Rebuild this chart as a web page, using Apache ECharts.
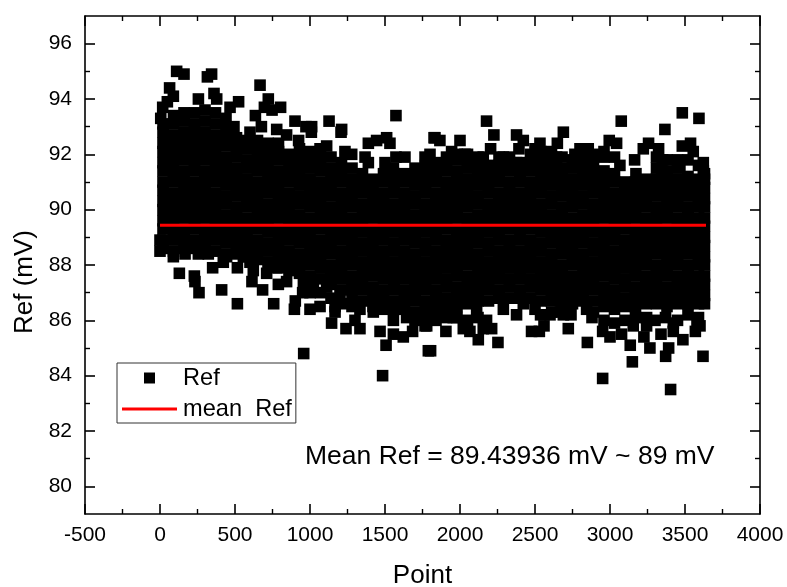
<!DOCTYPE html>
<html><head><meta charset="utf-8">
<script src="https://cdn.jsdelivr.net/npm/echarts@6/dist/echarts.min.js"></script>
<style>html,body{margin:0;background:#fff}#c{width:787px;height:587px}</style></head>
<body><div id="c"></div>
<script>
const meanRef = 89.43936;
const meanX = [0, 3640];
const xTicks = [-500,0,500,1000,1500,2000,2500,3000,3500,4000];
const yTicks = [80,82,84,86,88,90,92,94,96];
const yMinorTicks = [81,83,85,87,89,91,93,95];
// Isolated points around the cloud
const upperX = [111,160,316,344,64,89,49,18,5,256,360,378,467,524,667,636,722,696,747,804,493,600,676,778,844,900,973,1009,1011,1127,1211,1207,924,1111,1067,1389,1444,1511,1533,1573,1367,1389,1500,1573,1633,1767,1233,1278,1656,1711,1556,1827,2177,1833,1866,2000,2226,2377,2422,2689,3075,2995,3044,3366,3482,3593,3537,3482,3555,3257,3222,3324,3351,3622,3622,3466,3164,3173,3066,2960,2855,2800,2766,2649,2533,2500,2393,2204,2155,2033,1944,1800,2289,2644,2377,3344,3310,3310,2540,2610,2470,2330,2260,1910,1980,2050,2120,2820,2890,2960,3030,3590,3520,3450,3380];
const upperY = [95.0,94.9,94.8,94.9,94.4,94.1,93.9,93.7,93.3,94.0,94.2,94.0,93.7,93.9,94.5,93.4,94.0,93.7,93.6,93.7,93.0,92.8,93.0,92.9,92.7,93.2,93.0,92.8,93.0,93.2,92.9,92.8,92.5,92.3,92.2,92.4,92.5,92.6,92.4,93.4,91.9,91.7,91.7,91.9,91.9,91.9,92.1,92.0,91.2,91.3,91.5,92.6,93.2,92.6,92.5,92.5,92.7,92.7,92.5,92.8,93.2,92.5,92.4,92.9,93.5,93.3,92.4,92.3,92.1,92.4,92.2,92.2,91.8,91.7,91.4,91.6,91.8,91.3,91.6,91.9,92.2,92.2,92.0,92.4,92.4,92.2,92.2,92.2,91.9,92.0,92.1,92.0,91.9,91.9,91.7,91.5,91.5,91.9,92.1,92.1,92.0,91.9,91.9,91.9,92.0,92.0,91.9,92.0,92.0,92.1,91.9,91.6,91.8,91.8,91.8];
const lowerX = [129,229,233,260,411,516,613,684,758,896,902,1000,1067,1167,1167,1144,1240,1300,1333,1467,1484,958,1507,1556,1622,1684,1767,1789,351,422,516,622,711,789,844,956,1022,1111,1200,951,89,0,0,167,256,322,444,556,600,778,1333,1422,1556,1644,1756,1804,1906,1778,2122,2253,2211,2155,2066,2022,2177,2377,2289,2477,2529,2560,2537,2689,2722,2849,2951,2880,2951,3000,3077,3135,3149,3155,3226,3266,3244,3340,3391,3371,3404,3486,3422,3422,3569,3620,3600,3580,3244,2611,2500,2422,2111,1955,1844,2844,1000,1070,1140,1210,1280,1700,1770,1840,1910,1980,2050,2120,2600,2670,2740,2890,2960,3030,3100,3170,3300,3370,3450,3520,3590];
const lowerY = [87.7,87.6,87.4,87.0,87.1,86.6,87.4,87.1,86.6,86.4,86.7,86.4,86.5,86.3,86.5,85.9,85.7,86.0,85.7,85.6,84.0,84.8,85.1,85.5,85.4,85.6,85.8,84.9,87.9,88.1,87.9,87.8,87.7,87.3,87.4,87.3,87.3,87.2,86.9,87.0,88.3,88.9,88.5,88.4,88.4,88.4,88.3,88.3,88.1,87.9,86.4,86.3,86.0,86.1,86.1,84.9,85.6,85.8,85.3,85.2,85.7,85.7,85.6,85.7,86.0,86.2,86.4,85.6,85.6,85.8,86.2,86.2,85.7,85.2,83.9,86.1,85.6,85.4,85.5,85.1,84.5,85.8,85.4,85.0,85.8,85.5,85.0,84.7,83.5,85.3,85.6,85.9,85.6,84.7,85.8,86.0,86.1,86.3,86.4,86.6,86.4,86.1,86.3,86.4,87.0,87.0,86.8,86.6,86.5,86.0,86.1,86.0,86.1,86.1,86.0,86.1,86.2,86.3,86.2,86.3,86.0,85.9,86.0,86.1,86.0,86.1,86.0,86.2,86.1];
// Dense body of the cloud, column by column
const bodyX = [20,90,160,230,300,370,440,510,580,650,720,790,860,930,1000,1070,1140,1210,1280,1350,1420,1490,1560,1630,1700,1770,1840,1910,1980,2050,2120,2190,2260,2330,2400,2470,2540,2610,2680,2750,2820,2890,2960,3030,3100,3170,3240,3310,3380,3450,3520,3590,3630];
const bodyY = [
[88.6,88.9,89.3,89.6,90.0,90.3,90.7,91.0,91.4,91.7,92.1,92.4,92.8,93.1],
[88.5,88.9,89.2,89.6,89.9,90.3,90.6,91.0,91.3,91.7,92.0,92.4,92.7,93.1,93.4],
[88.6,89.0,89.3,89.7,90.0,90.4,90.7,91.1,91.4,91.8,92.1,92.5,92.8,93.2,93.5],
[88.6,88.9,89.3,89.6,90.0,90.3,90.7,91.0,91.4,91.7,92.1,92.4,92.8,93.1,93.5],
[88.6,89.0,89.3,89.7,90.0,90.4,90.7,91.1,91.4,91.8,92.1,92.5,92.8,93.2,93.6],
[88.5,88.9,89.2,89.6,89.9,90.3,90.6,91.0,91.3,91.7,92.0,92.4,92.7,93.1,93.5],
[88.4,88.8,89.1,89.5,89.8,90.2,90.5,90.9,91.2,91.6,91.9,92.3,92.6,93.0,93.3],
[88.4,88.7,89.1,89.4,89.8,90.1,90.5,90.8,91.2,91.5,91.9,92.2,92.6],
[88.3,88.7,89.0,89.4,89.7,90.1,90.4,90.8,91.1,91.5,91.8,92.2,92.5],
[88.2,88.6,88.9,89.3,89.6,90.0,90.3,90.7,91.0,91.4,91.7,92.1,92.5],
[88.1,88.5,88.8,89.2,89.5,89.9,90.2,90.6,90.9,91.3,91.6,92.0,92.4],
[87.9,88.3,88.6,89.0,89.3,89.7,90.0,90.4,90.7,91.1,91.4,91.8,92.1,92.4],
[87.8,88.2,88.5,88.9,89.2,89.6,89.9,90.3,90.6,91.0,91.3,91.7,92.0],
[87.7,88.1,88.4,88.8,89.1,89.5,89.8,90.2,90.5,90.9,91.2,91.6,91.9,92.2],
[87.6,88.0,88.3,88.7,89.0,89.4,89.7,90.1,90.4,90.8,91.1,91.5,91.8,92.1],
[87.5,87.9,88.2,88.6,88.9,89.3,89.6,90.0,90.3,90.7,91.0,91.4,91.7,92.1],
[87.3,87.7,88.0,88.4,88.7,89.1,89.4,89.8,90.1,90.5,90.8,91.2,91.5,91.9],
[87.1,87.5,87.8,88.2,88.5,88.9,89.2,89.6,89.9,90.3,90.6,91.0,91.3,91.7],
[86.9,87.3,87.6,88.0,88.3,88.7,89.0,89.4,89.7,90.1,90.4,90.8,91.1,91.5],
[86.7,87.1,87.4,87.8,88.1,88.5,88.8,89.2,89.5,89.9,90.2,90.6,90.9,91.3],
[86.5,86.9,87.2,87.6,87.9,88.3,88.6,89.0,89.3,89.7,90.0,90.4,90.7,91.1],
[86.4,86.8,87.1,87.5,87.8,88.2,88.5,88.9,89.2,89.6,89.9,90.3,90.6,91.0,91.3],
[86.4,86.7,87.1,87.4,87.8,88.1,88.5,88.8,89.2,89.5,89.9,90.2,90.6,90.9,91.3],
[86.4,86.8,87.1,87.5,87.8,88.2,88.5,88.9,89.2,89.6,89.9,90.3,90.6,91.0,91.3],
[86.3,86.7,87.0,87.4,87.7,88.1,88.4,88.8,89.1,89.5,89.8,90.2,90.5,90.9,91.2,91.5],
[86.4,86.7,87.1,87.4,87.8,88.1,88.5,88.8,89.2,89.5,89.9,90.2,90.6,90.9,91.3,91.6],
[86.4,86.8,87.1,87.5,87.8,88.2,88.5,88.9,89.2,89.6,89.9,90.3,90.6,91.0,91.3,91.7],
[86.5,86.8,87.2,87.5,87.9,88.2,88.6,88.9,89.3,89.6,90.0,90.3,90.7,91.0,91.4,91.7],
[86.5,86.9,87.2,87.6,87.9,88.3,88.6,89.0,89.3,89.7,90.0,90.4,90.7,91.1,91.4,91.8],
[86.6,86.9,87.3,87.6,88.0,88.3,88.7,89.0,89.4,89.7,90.1,90.4,90.8,91.1,91.5,91.8],
[86.7,87.0,87.4,87.7,88.1,88.4,88.8,89.1,89.5,89.8,90.2,90.5,90.9,91.2,91.6],
[86.7,87.1,87.4,87.8,88.1,88.5,88.8,89.2,89.5,89.9,90.2,90.6,90.9,91.3,91.6],
[86.8,87.1,87.5,87.8,88.2,88.5,88.9,89.2,89.6,89.9,90.3,90.6,91.0,91.3,91.6],
[86.8,87.2,87.5,87.9,88.2,88.6,88.9,89.3,89.6,90.0,90.3,90.7,91.0,91.4,91.7],
[86.8,87.1,87.5,87.8,88.2,88.5,88.9,89.2,89.6,89.9,90.3,90.6,91.0,91.3,91.7],
[86.8,87.2,87.5,87.9,88.2,88.6,88.9,89.3,89.6,90.0,90.3,90.7,91.0,91.4,91.7],
[86.7,87.1,87.4,87.8,88.1,88.5,88.8,89.2,89.5,89.9,90.2,90.6,90.9,91.3,91.6,92.0],
[86.7,87.0,87.4,87.7,88.1,88.4,88.8,89.1,89.5,89.8,90.2,90.5,90.9,91.2,91.6,91.9],
[86.6,87.0,87.3,87.7,88.0,88.4,88.7,89.1,89.4,89.8,90.1,90.5,90.8,91.2,91.5,91.9],
[86.6,86.9,87.3,87.6,88.0,88.3,88.7,89.0,89.4,89.7,90.1,90.4,90.8,91.1,91.5,91.8],
[86.7,87.0,87.4,87.7,88.1,88.4,88.8,89.1,89.5,89.8,90.2,90.5,90.9,91.2,91.6,91.9],
[86.7,87.1,87.4,87.8,88.1,88.5,88.8,89.2,89.5,89.9,90.2,90.6,90.9,91.3,91.6],
[86.5,86.9,87.2,87.6,87.9,88.3,88.6,89.0,89.3,89.7,90.0,90.4,90.7,91.1,91.4],
[86.4,86.8,87.1,87.5,87.8,88.2,88.5,88.9,89.2,89.6,89.9,90.3,90.6,91.0,91.3],
[86.5,86.8,87.2,87.5,87.9,88.2,88.6,88.9,89.3,89.6,90.0,90.3,90.7,91.0],
[86.5,86.9,87.2,87.6,87.9,88.3,88.6,89.0,89.3,89.7,90.0,90.4,90.7,91.0],
[86.6,86.9,87.3,87.6,88.0,88.3,88.7,89.0,89.4,89.7,90.1,90.4,90.8,91.1],
[86.6,87.0,87.3,87.7,88.0,88.4,88.7,89.1,89.4,89.8,90.1,90.5,90.8,91.1],
[86.5,86.9,87.2,87.6,87.9,88.3,88.6,89.0,89.3,89.7,90.0,90.4,90.7,91.1,91.4],
[86.6,86.9,87.3,87.6,88.0,88.3,88.7,89.0,89.4,89.7,90.1,90.4,90.8,91.1,91.5],
[86.6,87.0,87.3,87.7,88.0,88.4,88.7,89.1,89.4,89.8,90.1,90.5,90.8,91.2],
[86.6,86.9,87.3,87.6,88.0,88.3,88.7,89.0,89.4,89.7,90.1,90.4,90.8,91.1],
[86.6,86.9,87.3,87.6,88.0,88.3,88.7,89.0,89.4,89.7,90.1,90.4,90.8,91.1,91.3]
];
const FONT = '"Liberation Sans", Arial, sans-serif';
const refPoints = [];
bodyX.forEach((x, i) => bodyY[i].forEach(y => refPoints.push([x, y])));
upperX.forEach((x, i) => refPoints.push([x, upperY[i]]));
lowerX.forEach((x, i) => refPoints.push([x, lowerY[i]]));
const line = {show:true, onZero:false, lineStyle:{color:'#000', width:1.6}};
const tick = {show:true, inside:true, length:10, interval:0, lineStyle:{color:'#000', width:1.6}};
const smallTick = {show:true, inside:true, length:5, interval:0, lineStyle:{color:'#000', width:1.4}, customValues:yMinorTicks};
const minor = {show:true, splitNumber:2, length:5, lineStyle:{color:'#000', width:1.4}};
const chart = echarts.init(document.getElementById('c'), null, {renderer:'canvas'});
chart.setOption({
  animation:false,
  backgroundColor:'#fff',
  grid:{left:85, top:16, width:675, height:498, outerBoundsMode:'none', containLabel:false},
  xAxis:[
    {type:'value', position:'bottom', min:-500, max:4000, interval:500, name:'Point', nameLocation:'middle', nameGap:49,
     nameTextStyle:{fontFamily:FONT, fontSize:26, color:'#000'},
     axisLine:line, axisTick:tick, minorTick:minor, splitLine:{show:false},
     axisLabel:{fontFamily:FONT, fontSize:21, color:'#000', margin:11, showMinLabel:true, showMaxLabel:true,
       formatter:v => xTicks.includes(v) ? String(v) : ''}},
    {type:'value', position:'top', min:-500, max:4000, interval:500,
     axisLine:line, axisTick:tick, minorTick:minor, splitLine:{show:false}, axisLabel:{show:false}}
  ],
  yAxis:[
    {type:'value', position:'left', min:79, max:97, interval:2, name:'Ref (mV)', nameLocation:'middle', nameGap:47,
     nameTextStyle:{fontFamily:FONT, fontSize:26, color:'#000', padding:[0,34,0,0]},
     axisLine:line, axisTick:{...tick, customValues:yTicks}, minorTick:{show:false}, splitLine:{show:false},
     axisLabel:{fontFamily:FONT, fontSize:21, color:'#000', margin:13, customValues:yTicks, formatter:v => String(v)}},
    {type:'value', position:'right', min:79, max:97, interval:2,
     axisLine:line, axisTick:{...tick, customValues:yTicks}, minorTick:{show:false}, splitLine:{show:false}, axisLabel:{show:false}},
    {type:'value', position:'left', min:79, max:97, interval:1, axisLine:{show:false, onZero:false},
     axisTick:smallTick, splitLine:{show:false}, axisLabel:{show:false}},
    {type:'value', position:'right', min:79, max:97, interval:1, axisLine:{show:false, onZero:false},
     axisTick:smallTick, splitLine:{show:false}, axisLabel:{show:false}}
  ],
  legend:{
    left:117, top:363, orient:'vertical', align:'left', padding:[3,4,2,5], itemGap:7, itemWidth:55, itemHeight:11,
    borderColor:'#333', borderWidth:1, backgroundColor:'#fff',
    textStyle:{fontFamily:FONT, fontSize:23.6, color:'#000', padding:[0,0,0,1]},
    data:[{name:'Ref', icon:'path://M0 0H10V10H0Z'}, {name:'mean  Ref', icon:'path://M0 0H55V3H0Z'}]
  },
  series:[
    {name:'Ref', type:'scatter', symbol:'rect', symbolSize:11.6, itemStyle:{color:'#000', opacity:1}, data:refPoints, large:false, silent:true},
    {name:'mean  Ref', type:'line', symbol:'none', lineStyle:{color:'#ff0000', width:3}, itemStyle:{color:'#ff0000'},
     data:meanX.map(x => [x, meanRef]), z:5, silent:true}
  ],
  graphic:[{type:'text', left:305, top:443, z:10,
    style:{text:'Mean Ref = 89.43936 mV ~ 89 mV', fontFamily:FONT, fontSize:26.5, fill:'#000'}}]
});
</script></body></html>
